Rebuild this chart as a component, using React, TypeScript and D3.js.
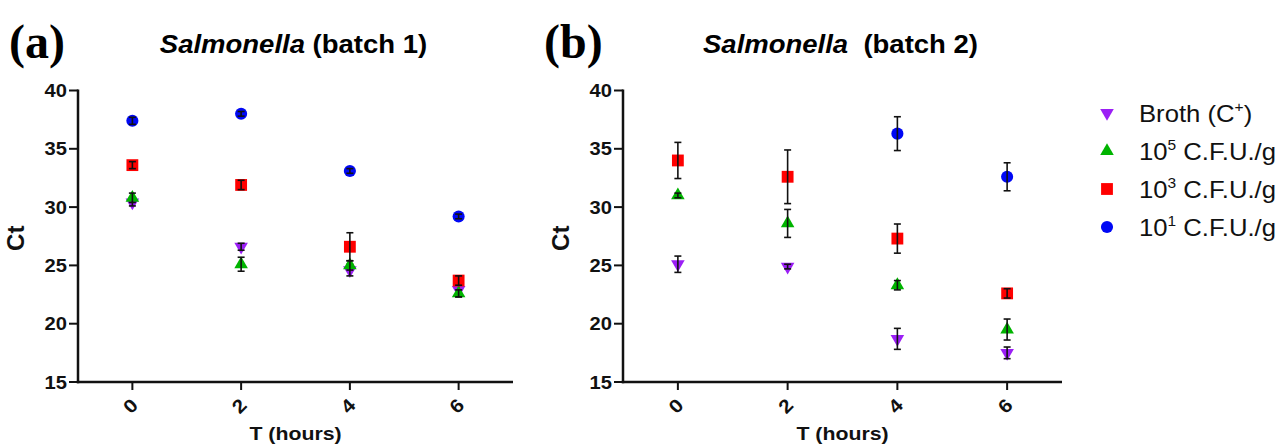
import React from "react";
import * as d3 from "d3";

// time points (hours)
const hours = [0, 2, 4, 6];
const yTicks = [15, 20, 25, 30, 35, 40];

// series order: broth, 10^5, 10^3, 10^1
const seriesKeys = ["broth", "cfu5", "cfu3", "cfu1"];

// batch 1 means and SD
const b1Broth = [30.4, 26.6, 24.6, 22.9];
const b1BrothErr = [0.3, 0.3, 0.5, 0.6];
const b1Cfu5 = [30.8, 25.1, 25.0, 22.6];
const b1Cfu5Err = [0.4, 0.6, 0.4, 0.3];
const b1Cfu3 = [33.6, 31.9, 26.6, 23.7];
const b1Cfu3Err = [0.3, 0.4, 1.2, 0.4];
const b1Cfu1 = [37.4, 38.0, 33.1, 29.2];
const b1Cfu1Err = [0.3, 0.2, 0.2, 0.2];

// batch 2 means and SD (10^1 not detected at 0 and 2 h)
const b2Broth = [25.1, 24.9, 18.7, 17.5];
const b2BrothErr = [0.7, 0.2, 0.9, 0.5];
const b2Cfu5 = [31.0, 28.6, 23.3, 19.5];
const b2Cfu5Err = [0.2, 1.2, 0.4, 0.9];
const b2Cfu3 = [34.0, 32.6, 27.3, 22.6];
const b2Cfu3Err = [1.55, 2.3, 1.25, 0.4];
const b2Cfu1 = [null, null, 36.3, 32.6];
const b2Cfu1Err = [0, 0, 1.45, 1.2];

const colors: Record<string, string> = {
  broth: "#9b1ff5",
  cfu5: "#00b400",
  cfu3: "#ff0000",
  cfu1: "#0008f5",
};

const symbols: Record<string, any> = {
  broth: d3.symbol().type(d3.symbolTriangle).size(80),
  cfu5: d3.symbol().type(d3.symbolTriangle).size(80),
  cfu3: d3.symbol().type(d3.symbolSquare).size(140),
  cfu1: d3.symbol().type(d3.symbolCircle).size(115),
};

const FONT = "'Liberation Sans', Arial, sans-serif";

// stretched text (the source figure's type is a bit wide)
const T = ({ x, y, sx = 1.12, rot = 0, children, ...rest }: any) => (
  <text
    transform={`translate(${x},${y}) rotate(${rot}) scale(${sx},1)`}
    fontFamily={FONT}
    style={{ whiteSpace: "pre" }}
    {...rest}
  >
    {children}
  </text>
);

const Marker = ({ k, x, y }: any) => (
  <path
    d={symbols[k]()}
    fill={colors[k]}
    transform={`translate(${x},${y}) ${k === "broth" ? "rotate(180)" : ""}`}
  />
);

const Panel = ({ left, right, data, errs, letter, letterX, batchText }: any) => {
  const top = 90.5;
  const bottom = 382;
  const x = d3.scaleLinear().domain([-1, 7]).range([left, right]);
  const y = d3.scaleLinear().domain([15, 40]).range([bottom, top]);
  const cx = (left + right) / 2;

  return (
    <g>
      <text x={letterX} y={58} fontFamily="'Liberation Serif', 'Times New Roman', serif" fontWeight="bold" fontSize={48}>
        {letter}
      </text>
      <T x={cx - 2} y={53} sx={1.1} textAnchor="middle" fontSize={25} fontWeight="bold">
        <tspan fontStyle="italic">Salmonella</tspan>
        <tspan>{batchText}</tspan>
      </T>

      {/* y axis */}
      <line x1={left} x2={left} y1={top - 1} y2={bottom + 1.2} stroke="#111" strokeWidth={2.5} />
      {yTicks.map((t) => (
        <g key={t}>
          <line x1={left - 9} x2={left} y1={y(t)} y2={y(t)} stroke="#111" strokeWidth={2} />
          <T x={left - 11} y={y(t) + 6.5} sx={1.12} textAnchor="end" fontSize={18} fontWeight="bold" fill="#111">
            {t}
          </T>
        </g>
      ))}
      <T x={left - 62} y={(top + bottom) / 2 + 2} rot={-90} sx={1.05} textAnchor="middle" dominantBaseline="central" fontSize={23} fontWeight="bold" fill="#111">
        Ct
      </T>

      {/* x axis */}
      <line x1={left - 1.2} x2={right} y1={bottom} y2={bottom} stroke="#111" strokeWidth={2.5} />
      {hours.map((h) => (
        <g key={h}>
          <line x1={x(h)} x2={x(h)} y1={bottom} y2={bottom + 8} stroke="#111" strokeWidth={2} />
          <T x={x(h) - 2} y={bottom + 24} rot={-45} sx={1.1} textAnchor="middle" dominantBaseline="central" fontSize={19} fontWeight="bold" fill="#111">
            {h}
          </T>
        </g>
      ))}
      <T x={cx} y={bottom + 58} sx={1.15} textAnchor="middle" fontSize={18.5} fontWeight="bold" fill="#111">
        T (hours)
      </T>

      {/* points with error bars */}
      {seriesKeys.map((k) => (
        <g key={k}>
          {hours.map((h, i) => {
            const v = data[k][i];
            if (v == null) return null;
            const e = errs[k][i];
            const px = x(h);
            return (
              <g key={h}>
                <Marker k={k} x={px} y={y(v)} />
                {e > 0 && (
                  <g stroke="#111" strokeWidth={1.6}>
                    <line x1={px} x2={px} y1={y(v + e)} y2={y(v - e)} />
                    <line x1={px - 3.5} x2={px + 3.5} y1={y(v + e)} y2={y(v + e)} />
                    <line x1={px - 3.5} x2={px + 3.5} y1={y(v - e)} y2={y(v - e)} />
                  </g>
                )}
              </g>
            );
          })}
        </g>
      ))}
    </g>
  );
};

const legendRows = [
  { k: "broth", base: "Broth (C", sup: "+", tail: ")" },
  { k: "cfu5", base: "10", sup: "5", tail: " C.F.U./g" },
  { k: "cfu3", base: "10", sup: "3", tail: " C.F.U./g" },
  { k: "cfu1", base: "10", sup: "1", tail: " C.F.U./g" },
];

export default function App() {
  const legendY = d3.scalePoint().domain(seriesKeys).range([113, 227]);
  return (
    <svg
      width={1286}
      height={445}
      style={{ position: "absolute", left: 0, top: 0, background: "#fff" }}
    >
      <Panel
        left={78}
        right={513}
        letter="(a)"
        letterX={9}
        batchText=" (batch 1)"
        data={{ broth: b1Broth, cfu5: b1Cfu5, cfu3: b1Cfu3, cfu1: b1Cfu1 }}
        errs={{ broth: b1BrothErr, cfu5: b1Cfu5Err, cfu3: b1Cfu3Err, cfu1: b1Cfu1Err }}
      />
      <Panel
        left={623}
        right={1062}
        letter="(b)"
        letterX={544}
        batchText="  (batch 2)"
        data={{ broth: b2Broth, cfu5: b2Cfu5, cfu3: b2Cfu3, cfu1: b2Cfu1 }}
        errs={{ broth: b2BrothErr, cfu5: b2Cfu5Err, cfu3: b2Cfu3Err, cfu1: b2Cfu1Err }}
      />
      {legendRows.map((r) => {
        const ly = legendY(r.k) as number;
        return (
          <g key={r.k}>
            <Marker k={r.k} x={1107} y={ly} />
            <T x={1139} y={ly + 8.5} sx={1.07} fontSize={24} fill="#111">
              <tspan>{r.base}</tspan>
              <tspan fontSize={14.5} dy={-10}>{r.sup}</tspan>
              <tspan dy={10}>{r.tail}</tspan>
            </T>
          </g>
        );
      })}
    </svg>
  );
}
